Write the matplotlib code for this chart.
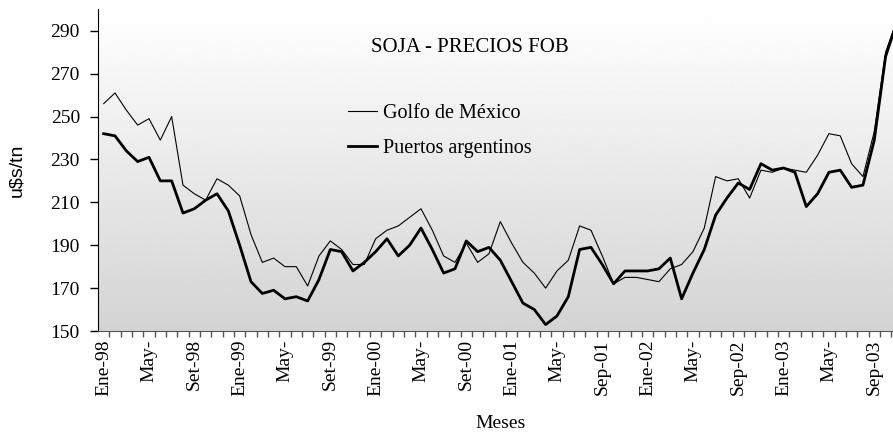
import matplotlib.pyplot as plt
import numpy as np

# Monthly FOB soybean prices, Jan-1998 .. Nov-2003 (u$s/tn)
golfo = [256, 261, 253, 246, 249, 239, 250, 218, 214, 211, 221, 218,
         213, 195, 182, 184, 180, 180, 171, 185, 192, 188, 181, 181,
         193, 197, 199, 203, 207, 197, 185, 182, 191, 182, 186, 201,
         191, 182, 177, 170, 178, 183, 199, 197, 185, 172, 175, 175,
         174, 173, 179, 181, 187, 198, 222, 220, 221, 212, 225, 224,
         226, 225, 224, 232, 242, 241, 228, 222, 243, 280, 295]
puertos = [242, 241, 234, 229, 231, 220, 220, 205, 207, 211, 214, 206,
           190, 173, 167.5, 169, 165, 166, 164, 174, 188, 187, 178, 182,
           187, 193, 185, 190, 198, 188, 177, 179, 192, 187, 189, 183,
           173, 163, 160, 153, 157, 166, 188, 189, 181, 172, 178, 178,
           178, 179, 184, 165, 177, 188, 204, 212, 219, 216, 228, 225,
           226, 224, 208, 214, 224, 225, 217, 218, 239, 278, 294]
month_labels = ["Ene-98", "May-", "Set-98", "Ene-99", "May-", "Set-99",
                "Ene-00", "May-", "Set-00", "Ene-01", "May-", "Sep-01",
                "Ene-02", "May-", "Sep-02", "Ene-03", "May-", "Sep-03"]
y_ticks = [150, 170, 190, 210, 230, 250, 270, 290]

plt.rcParams["font.family"] = ["Liberation Serif", "DejaVu Serif"]

W, H = 893, 432
fig = plt.figure(figsize=(W / 100, H / 100), dpi=100)
ax = fig.add_axes([98 / W, 1 - 331 / H, 804.6 / W, (331 - 9.3) / H])

x = np.arange(len(golfo))

# grey gradient behind the plot area
grad = np.linspace(1.0, 0.83, 256).reshape(-1, 1)
ax.imshow(grad, cmap="gray", vmin=0, vmax=1, aspect="auto",
          extent=[0, 1, 0, 1], transform=ax.transAxes, zorder=0)

ax.plot(x, golfo, color="black", lw=0.8, label="Golfo de México", zorder=3)
ax.plot(x, puertos, color="black", lw=2.0, label="Puertos argentinos",
        zorder=2)

ax.set_xlim(-0.5, len(golfo) - 0.5)
ax.set_ylim(150, 300)

ax.set_yticks(y_ticks)
ax.tick_params(axis="y", labelsize=14, length=6, width=1, pad=7)
ax.set_xticks(np.arange(0, 4 * len(month_labels), 4))
ax.set_xticklabels(month_labels, rotation=90)
ax.set_xticks(np.arange(0.5, len(golfo) - 0.5, 1), minor=True)
ax.tick_params(axis="x", which="major", labelsize=14, length=0, pad=6)
ax.tick_params(axis="x", which="minor", length=4, width=1, color="#555555")

for side in ("top", "right"):
    ax.spines[side].set_visible(False)
ax.spines["left"].set_color("black")
ax.spines["bottom"].set_color("#555555")

ax.set_xlabel("Meses", fontsize=14, labelpad=14)
ax.set_ylabel("u$s/tn", fontsize=14, family="Liberation Sans", labelpad=18)

fig.text(470 / W, 1 - 47 / H, "SOJA - PRECIOS FOB", fontsize=15,
         ha="center", va="center")

ax.legend(loc="upper left", bbox_to_anchor=(348 / W, 1 - 104 / H),
          bbox_transform=fig.transFigure, frameon=False, fontsize=14.5,
          handlelength=1.45, handletextpad=0.3, labelspacing=0.8,
          borderpad=0, borderaxespad=0)

fig.savefig("out.png", dpi=100)
